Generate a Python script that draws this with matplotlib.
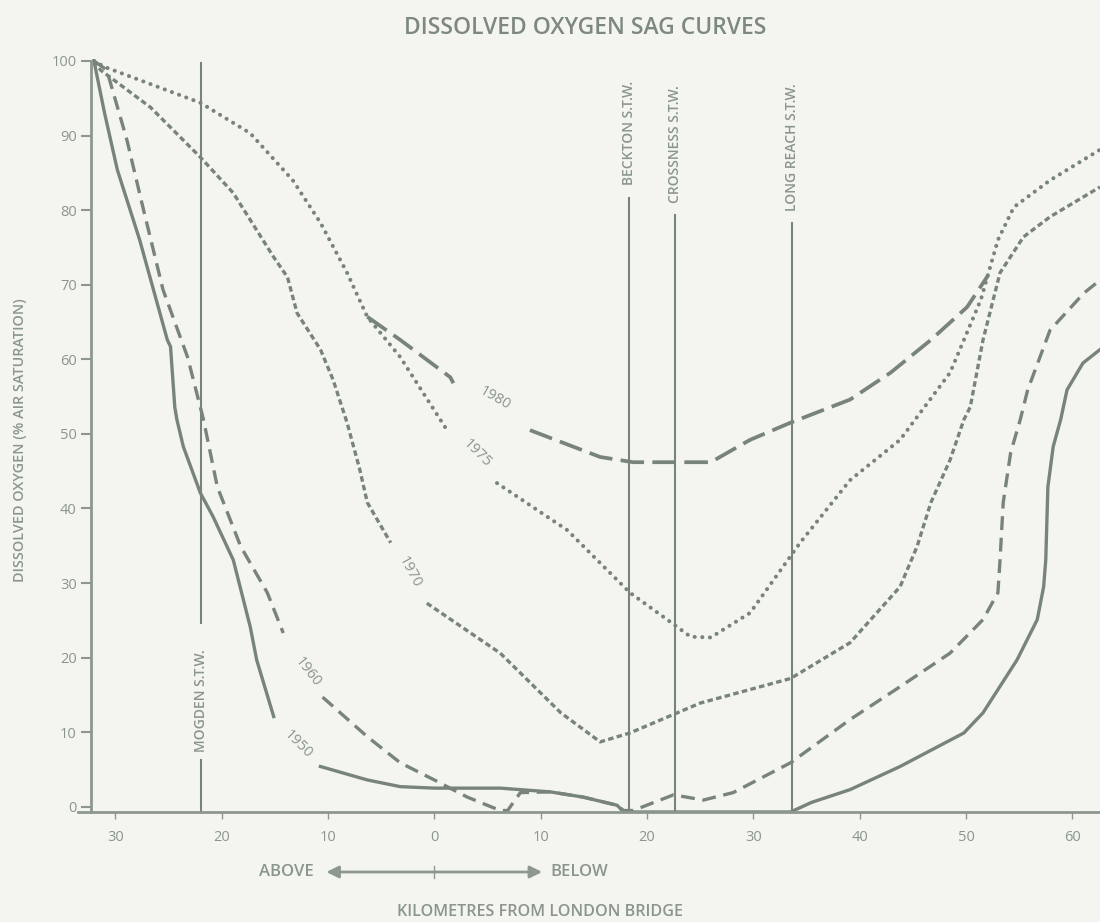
import matplotlib
matplotlib.use("Agg")
import matplotlib.pyplot as plt
import matplotlib.transforms as mtransforms

plt.rcParams['font.family'] = ['Open Sans', 'DejaVu Sans']
plt.rcParams['lines.scale_dashes'] = False

# km from London Bridge (negative = above), DO in % air saturation
km_1950 = [-32, -31, -29.8, -27.7, -25.1, -24.8, -24.4, -24.2, -23.6, -22.0, -20.8, -18.9, -17.3, -16.7, -15.1]
do_1950 = [100, 93, 85.4, 76, 62.6, 61.7, 53.6, 51.9, 48.3, 42.1, 38.9, 33.1, 24.1, 19.7, 12.1]
km_1950b = [-10.7, -6.3, -3.2, 0, 6.2, 10.9, 14, 17.2, 17.8, 33.5, 35.5, 39.1, 43.8, 49.8, 51.6, 54.8, 56.7, 57.3,
            57.5, 57.7, 58.2, 58.9, 59.5, 61, 62.6]
do_1950b = [5.4, 3.6, 2.7, 2.5, 2.5, 2.0, 1.3, 0.2, -0.7, -0.7, 0.6, 2.3, 5.4, 9.9, 12.6, 19.7, 25.1, 29.5,
            33.1, 42.9, 48.3, 51.9, 55.9, 59.5, 61.3]

km_1960 = [-32, -30.8, -28.9, -27.4, -25.5, -23.2, -22, -21.7, -20.4, -18.2, -15.7, -14.2]
do_1960 = [100, 98.8, 89.4, 80.4, 69.3, 60.3, 53.6, 51.9, 42.9, 34.9, 28.7, 23.3]
km_1960b = [-10.5, -6.3, -3.2, 0, 3.1, 6.2, 6.9, 8.1, 10.9, 14, 17.2, 17.8, 18.7, 22.5, 25.3, 28.1, 33.5, 39.1,
            43.8, 48.5, 51.6, 53, 53.2, 53.5, 54.2, 55.1, 55.8, 57.9, 61.1, 62.6]
do_1960b = [14.7, 9.4, 5.9, 3.6, 1.3, -0.5, -0.5, 1.9, 2.0, 1.3, 0.2, -0.5, -0.5, 1.6, 0.9, 1.9, 5.9, 11.7,
            16.1, 20.6, 25.1, 28.7, 33.1, 40.8, 47.5, 51.9, 55.9, 63.9, 68.9, 70.6]

km_1970 = [-32, -31.4, -26.7, -22, -18.9, -15.1, -13.8, -12.9, -10.7, -9.5, -8.2, -7, -6.3, -4.1]
do_1970 = [100, 98.8, 93.8, 87.1, 82.3, 73.7, 71, 66.2, 61.3, 57.2, 51.5, 45.2, 40.8, 35.4]
km_1970b = [-0.7, 6.2, 11.9, 15.6, 18.4, 25, 33.5, 39.1, 43.8, 45.4, 46.7, 48.5, 49.8, 50.4, 51.6, 53.2,
            55.4, 57.9, 62.6]
do_1970b = [27.3, 20.6, 12.6, 8.7, 9.9, 13.9, 17.2, 22.0, 29.5, 34.9, 40.8, 46.5, 51.9, 53.6, 62.6, 71.6,
            76.4, 79.1, 83.1]

km_1975 = [-32, -31, -22, -17.3, -13.3, -10.7, -8.2, -6.3, -3.2, 1.2]
do_1975 = [100, 99.2, 94.4, 90.3, 84, 78.3, 71.6, 65.7, 60.3, 50.5]
km_1975b = [5.9, 12.5, 18.4, 21.9, 24.1, 26, 29.7, 32.8, 34.4, 39.1, 43.8, 48.5, 51.4, 53, 54.5, 57.9, 62.6]
do_1975b = [43.4, 37.1, 28.7, 25.1, 22.8, 22.7, 26, 32.2, 35.4, 43.8, 49.2, 58.2, 68, 76, 80.4, 84, 88.1]

km_1980 = [-6.3, -3.2, 1.5, 1.8]
do_1980 = [65.7, 62.6, 57.6, 56.8]
km_1980b = [9, 15.6, 18.7, 26, 29.7, 33.5, 39.1, 42.9, 46.7, 50.1, 52.1]
do_1980b = [50.5, 46.9, 46.2, 46.2, 49.2, 51.5, 54.6, 58.2, 62.6, 67, 71.3]

years = ['1950', '1960', '1970', '1975', '1980']
year_pos = [(-12.8, 8.3), (-11.9, 18.1), (-2.3, 31.4), (4.0, 47.4), (5.7, 54.8)]
year_rot = [-45, -52, -62, -45, -30]

works = ['MOGDEN S.T.W.', 'BECKTON S.T.W.', 'CROSSNESS S.T.W.', 'LONG REACH S.T.W.']
works_km = [-21.9, 18.3, 22.6, 33.6]

xticks = [-30, -20, -10, 0, 10, 20, 30, 40, 50, 60]
yticks = list(range(0, 101, 10))

line_c = '#78837b'
text_c = '#8a958d'
axis_c = '#8d978f'
bg = '#f4f5f1'

fig = plt.figure(figsize=(11, 9.22), dpi=100, facecolor=bg)
ax = fig.add_axes([78 / 1100, 110 / 922, 1 - 78 / 1100, 758.5 / 922])
ax.set_facecolor(bg)
ax.set_xlim(-33.5, 62.6)
ax.set_ylim(-0.7, 101)

lw = 2.4
styles = {
    '1950': dict(linestyle='-'),
    '1960': dict(linestyle=(0, (10, 5.5))),
    '1970': dict(linestyle=(0, (4, 2.4))),
    '1975': dict(linestyle=(0, (0.1, 5.4)), dash_capstyle='round', linewidth=2.9),
    '1980': dict(linestyle=(0, (17, 6)), linewidth=2.7),
}
series = {
    '1950': [(km_1950, do_1950), (km_1950b, do_1950b)],
    '1960': [(km_1960, do_1960), (km_1960b, do_1960b)],
    '1970': [(km_1970, do_1970), (km_1970b, do_1970b)],
    '1975': [(km_1975, do_1975), (km_1975b, do_1975b)],
    '1980': [(km_1980, do_1980), (km_1980b, do_1980b)],
}
for yr in years:
    kw = dict(color=line_c, linewidth=lw)
    kw.update(styles[yr])
    for xs, ys in series[yr]:
        ax.plot(xs, ys, **kw)

for yr, (x, y), r in zip(years, year_pos, year_rot):
    ax.text(x, y, yr, rotation=r, color=text_c, fontsize=10.5, ha='center', va='center',
            rotation_mode='anchor')

# sewage treatment works
ax.plot([works_km[0]] * 2, [99.7, 24.7], color=line_c, lw=1.5)
ax.plot([works_km[0]] * 2, [6.3, -0.7], color=line_c, lw=1.5)
ax.text(works_km[0], 14.2, works[0], rotation=90, fontsize=10, fontweight='semibold',
        color=text_c, ha='center', va='center')
tops = [81.6, 79.4, 78.3]
lab_y = [90.3, 88.8, 88.5]
for name, k, t, ly in zip(works[1:], works_km[1:], tops, lab_y):
    ax.plot([k, k], [t, -0.7], color=line_c, lw=1.5)
    ax.text(k, ly, name, rotation=90, fontsize=10, fontweight='semibold', color=text_c,
            ha='center', va='center')

for s in ['top', 'right']:
    ax.spines[s].set_visible(False)
ax.spines['left'].set_position(('data', -32.3))
ax.spines['left'].set_bounds(-0.7, 100)
for s in ['left', 'bottom']:
    ax.spines[s].set_color(axis_c)
    ax.spines[s].set_linewidth(2)

ax.set_yticks(yticks)
ax.set_xticks(xticks)
ax.set_xticklabels([str(abs(v)) for v in xticks])
ax.tick_params(axis='y', direction='out', length=7, width=1.5, color=axis_c,
               labelcolor=text_c, labelsize=10.5, pad=3)
ax.tick_params(axis='x', direction='out', length=5, width=1, color=axis_c,
               labelcolor=text_c, labelsize=10.5, pad=8)

fig.text(0.532, 1 - 28 / 922, 'DISSOLVED OXYGEN SAG CURVES', ha='center', va='center',
         fontsize=16.5, fontweight='semibold', color='#7d8880')
fig.text(20 / 1100, 1 - 440 / 922, 'DISSOLVED OXYGEN (% AIR SATURATION)', rotation=90,
         ha='center', va='center', fontsize=10.4, fontweight='semibold', color=text_c)
fig.text(540 / 1100, 1 - 912 / 922, 'KILOMETRES FROM LONDON BRIDGE', ha='center', va='center',
         fontsize=11.6, fontweight='semibold', color=text_c)

trans = mtransforms.blended_transform_factory(ax.transData, fig.transFigure)
ay = 1 - 872 / 922
ax.annotate('', xy=(10.4, ay), xytext=(-10.4, ay), xycoords=trans, textcoords=trans,
            annotation_clip=False,
            arrowprops=dict(arrowstyle='<|-|>', color=axis_c, lw=2, mutation_scale=18))
ax.plot([0, 0], [ay - 0.006, ay + 0.006], transform=trans, color=axis_c, lw=1, clip_on=False)
ax.text(-11.3, ay, 'ABOVE', transform=trans, ha='right', va='center', fontsize=12,
        fontweight='semibold', color=text_c)
ax.text(10.9, ay, 'BELOW', transform=trans, ha='left', va='center', fontsize=12,
        fontweight='semibold', color=text_c)

fig.savefig('out.png', dpi=100, facecolor=bg)
